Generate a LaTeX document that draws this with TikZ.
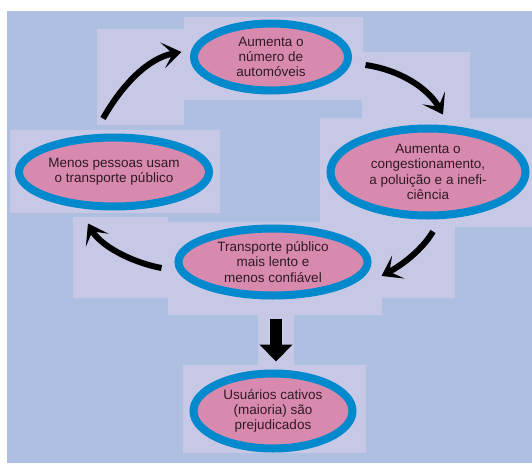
\documentclass[tikz,border=0pt]{standalone}
\usepackage{fontspec}
\setmainfont{Liberation Sans}
\usetikzlibrary{shapes.geometric,arrows.meta}
\definecolor{CycleBack}{RGB}{175,191,226}
\definecolor{CyclePatch}{RGB}{198,200,229}
\definecolor{CycleFill}{RGB}{216,138,174}
\definecolor{CycleRing}{RGB}{0,137,205}
\definecolor{CycleText}{RGB}{46,26,38}

\begin{document}
\begin{tikzpicture}[x=1pt,y=-1pt,
  bubble/.style n args={2}{ellipse,draw=CycleRing,fill=CycleFill,line width=8pt,minimum width=#1pt,minimum height=#2pt,inner sep=0pt,align=center,text=CycleText,font=\fontsize{13.5}{15.2}\selectfont},
  brush/.style={line width=6pt,-{Stealth[length=19pt,width=26pt,inset=10pt]}},
  bigdown/.style={line width=12pt,-{Triangle[length=17pt,width=32pt]}}]
\useasboundingbox (0,0) rectangle (532,463);
\fill[CycleBack] (7,11) rectangle (532,463);
% light patches behind bubbles and arrows
\foreach \a/\b/\c/\d in {97/29/184/125,184/17/363/100,362/52/470/118,320/118/532/227,367/227/455/298,10/130/220/213,73/217/168/298,168/222/382/315,258/315/294/365,183/365/366/453}
  \fill[CyclePatch] (\a,\b) rectangle (\c,\d);
% bubbles
\node[bubble={154}{67}] (top) at (271,57) {Aumenta o\\número de\\automóveis};
\node[bubble={195}{87}] (right) at (428,172) {Aumenta o\\congestionamento,\\a poluição e a inefi-\\ciência};
\node[bubble={190}{69}] (left) at (114,172) {Menos pessoas usam\\o transporte público};
\node[bubble={189}{67}] (mid) at (273,262) {Transporte público\\mais lento e\\menos confiável};
\node[bubble={159}{75}] (low) at (273,411) {Usuários cativos\\(maioria) são\\prejudicados};
% cycle arrows
\draw[brush] ([shift={(-11,-15)}]left.north) .. controls (122,85) and (148,58) .. ([shift={(-8.5,-5)}]top.west);
\draw[brush] ([shift={(13.5,8)}]top.east) .. controls (400,70) and (428,88) .. ([shift={(15,-10)}]right.north);
\draw[brush] ([shift={(5,12)}]right.south) .. controls (422,250) and (402,265) .. ([shift={(10,14)}]mid.east);
\draw[brush] ([shift={(-13,6)}]mid.west) .. controls (130,262) and (100,245) .. ([shift={(-26,13)}]left.south);
\draw[bigdown] ([shift={(3,19)}]mid.south) -- ([shift={(3,-8)}]low.north);
\end{tikzpicture}
\end{document}
